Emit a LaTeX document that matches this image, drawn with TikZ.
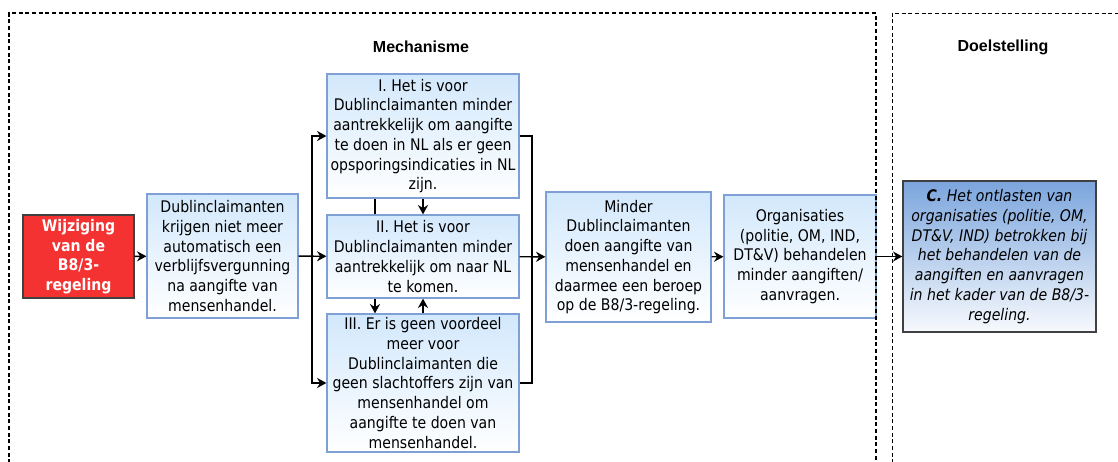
\documentclass[tikz,border=0pt]{standalone}
\usepackage{fontspec}
\setmainfont{DejaVu Sans}[FakeStretch=0.88]
\newfontfamily\kopfont{Liberation Sans}
\usepackage{xcolor}
\usetikzlibrary{arrows.meta,arrows}
\usetikzlibrary{backgrounds}
\definecolor{myblue}{RGB}{126,160,212}
\definecolor{mylightblue}{RGB}{210,232,252}
\definecolor{myred}{RGB}{245,50,50}
\definecolor{mydarkblue}{RGB}{123,165,221}
\definecolor{mygray}{gray}{0.25}

\begin{document}
\begin{tikzpicture}[x=0.75pt, y=-0.75pt,
  every node/.style={font=\fontsize{12}{14.8}\selectfont, align=center, inner sep=1pt},
  blok/.style={draw=myblue, line width=0.9pt, top color=mylightblue, bottom color=white},
  kop/.style={font=\kopfont\bfseries\fontsize{12}{14}\selectfont},
  pijl/.style={-{Stealth[length=7pt,width=7.5pt]}, line width=1.1pt},
  kader/.style={dash pattern=on 3pt off 2pt}]
\useasboundingbox (0,0) rectangle (1118,461);

\node[kop] (mech) at (421,47) {Mechanisme};
\node[kop] (doel) at (1003,47) {Doelstelling};

\node[draw=mygray, fill=myred, text=white, line width=1pt, minimum width=83.25pt, minimum height=62.25pt,
  font=\bfseries\fontsize{12}{14.6}\selectfont] (wijz) at (78.5,256.5) {Wijziging\\van de\\B8/3-\\regeling};
\node[blok, minimum width=113.25pt, minimum height=93pt] (dubl) at (222.5,256)
  {Dublinclaimanten\\krijgen niet meer\\automatisch een\\verblijfsvergunning\\na aangifte van\\mensenhandel.};
\node[blok, minimum width=144pt, minimum height=93pt] (mechI) at (423,136)
  {I. Het is voor\\Dublinclaimanten minder\\aantrekkelijk om aangifte\\te doen in NL als er geen\\opsporingsindicaties in NL\\zijn.};
\node[blok, minimum width=144pt, minimum height=62.25pt] (mechII) at (423,256.5)
  {II. Het is voor\\Dublinclaimanten minder\\aantrekkelijk om naar NL\\te komen.};
\node[blok, minimum width=144pt, minimum height=103.5pt] (mechIII) at (423,383)
  {III. Er is geen voordeel\\meer voor\\Dublinclaimanten die\\geen slachtoffers zijn van\\mensenhandel om\\aangifte te doen van\\mensenhandel.};
\node[blok, minimum width=123.75pt, minimum height=97.5pt] (minder) at (628.5,257)
  {Minder\\Dublinclaimanten\\doen aangifte van\\mensenhandel en\\daarmee een beroep\\op de B8/3-regeling.};
\node[blok, minimum width=114pt, minimum height=92.25pt] (org) at (800,256.5)
  {Organisaties\\(politie, OM, IND,\\DT\&V) behandelen\\minder aangiften/\\aanvragen.};
\node[draw=mygray, line width=1pt, top color=mydarkblue, bottom color=white!94!mydarkblue,
  minimum width=144.75pt, minimum height=113.25pt, font=\itshape\fontsize{12}{14.8}\selectfont] (doelC) at (999.5,256.5)
  {\textbf{C.} Het ontlasten van\\organisaties (politie, OM,\\DT\&V, IND) betrokken bij\\het behandelen van de\\aangiften en aanvragen\\in het kader van de B8/3-\\regeling.};

\coordinate (split) at (312,256.5);
\coordinate (merge) at (532,256.5);

% pijlen
\draw[pijl] (wijz) -- (dubl);
\draw[pijl] (dubl) -- (mechII);
\draw[pijl] (split) |- (mechI);
\draw[pijl] (split) |- (mechIII);
\draw[line width=1.1pt] (mechI) -| (merge);
\draw[line width=1.1pt] (mechIII) -| (merge);
\draw[pijl] (mechII) -- (minder);
\draw[pijl] (mechI) -- (mechII);
\draw[pijl] (mechIII.north -| mechII.south) -- (mechII.south);
\begin{scope}[on background layer]
\draw[pijl] ([xshift=-36pt]mechI.south) -- ([xshift=-36pt]mechI.south |- mechIII.north);
\end{scope}
\draw[pijl] (minder) -- (org);
\draw[pijl] (org) -- (doelC);

% kaders
\draw[kader, line width=0.9pt] (9,470) -- (9,13) -- (876,13) -- (876,470);
\draw[kader, line width=0.6pt] (892,470) -- (892,13) -- (1130,13);
\end{tikzpicture}
\end{document}
